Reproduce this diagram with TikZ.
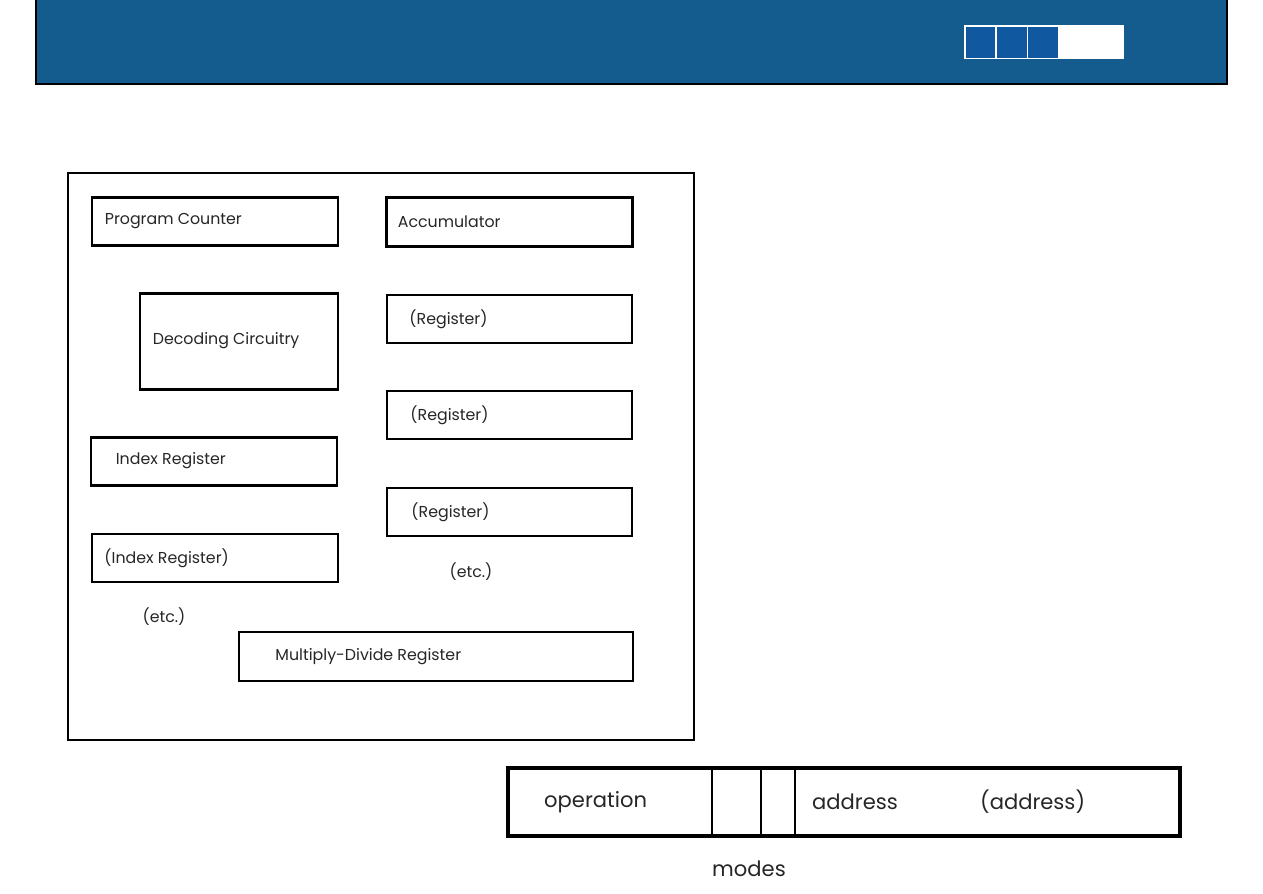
\documentclass[tikz,border=0pt]{standalone}
\usepackage{fontspec}
\setmainfont{Poppins}
\usetikzlibrary{fit}
\definecolor{hdrblue}{RGB}{21,92,142}
\definecolor{sqblue}{RGB}{16,89,160}
\begin{document}
\begin{tikzpicture}[x=0.02cm, y=-0.02cm, line join=miter, font=\fontsize{9}{11}\selectfont]
	\tikzset{reg/.style={draw, line width=1pt, inner sep=0pt},
		thickreg/.style={reg, line width=1.7pt},
		lbl/.style={anchor=west, inner sep=0pt, text=black!85},
		big/.style={font=\fontsize{12}{14}\selectfont, text=black!85}}
	\useasboundingbox (0,0) rectangle (1263,893);
	\fill[hdrblue] (36,0) rectangle (1227,84);
	\draw[line width=0.6pt] (36,0) |- (1227,84) -- (1227,0);
	\fill[white] (964,25) rectangle (1124,59);
	\foreach \a/\b in {966/995, 997/1027, 1028/1058} \fill[sqblue] (\a,27) rectangle (\b,58);
	\node[reg, line width=0.8pt, fit={(68,173) (694,740)}] (cpu) {};
	\foreach \n/\xa/\ya/\xb/\yb/\p/\s/\t in {pc/92/197/338/245/14/thickreg/Program Counter,
		acc/386/197/632/246/13/thickreg/Accumulator,
		dec/140/293/338/389/14/thickreg/Decoding Circuitry,
		rega/387/295/632/343/23/reg/(Register),
		regb/387/391/632/439/24/reg/(Register),
		regc/387/488/632/536/25/reg/(Register),
		idx/91/437/337/485/26/thickreg/Index Register,
		idxb/92/534/338/582/13/reg/(Index Register),
		mdr/239/632/633/681/37/reg/Multiply-Divide Register}
	{\node[\s, fit={(\xa,\ya) (\xb,\yb)}] (\n) {};
		\node[lbl] (\n-t) at ([xshift=\p*0.02cm]\n.west) {\t};}
	\node[text=black!85] (etca) at (471,572) {(etc.)};
	\node[text=black!85] (etcb) at (164,617) {(etc.)};
	\node[reg, line width=2.2pt, fit={(508,768) (1180,836)}] (ins) {};
	\foreach \x in {712,761,795} {\coordinate (d\x) at (\x,0);
		\draw[line width=1.1pt] (ins.north -| d\x) -- (ins.south -| d\x);}
	\node[big, anchor=west] (op) at (538,802) {operation};
	\node[big, anchor=west] (adr) at (806,802) {address};
	\node[big, anchor=west] (adrb) at (974,802) {(address)};
	\node[big] (modes) at (749,869) {modes};
\end{tikzpicture}
\end{document}
